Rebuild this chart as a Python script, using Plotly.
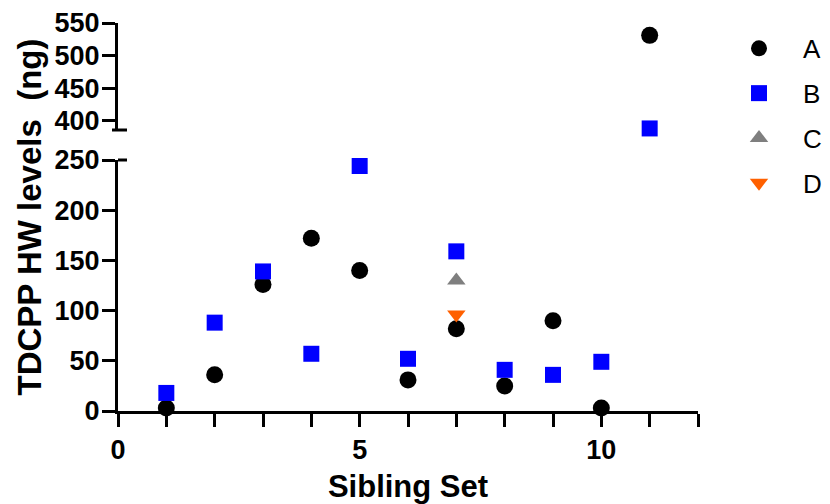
import plotly.graph_objects as go

# ---- data ----
sibling_set = [1, 2, 3, 4, 5, 6, 7, 8, 9, 10, 11]
series_A = [3, 36, 126, 172, 140, 31, 82, 25, 90, 3, 531]
series_B = [18, 88, 139, 57, 244, 52, 159, 41, 36, 49, 388]
set_C = [7]
series_C = [130]
set_D = [7]
series_D = [96]

lower_ticks = [0, 50, 100, 150, 200, 250]
upper_ticks = [400, 450, 500, 550]
x_ticks = list(range(0, 13))
x_ticklabels = ["0", "", "", "", "", "5", "", "", "", "", "10", "", ""]

BREAK = 300  # values above this are drawn on the upper (broken) segment

FONT = "Liberation Sans, Arial, Helvetica, sans-serif"

styles = {
    "A": dict(symbol="circle", color="#000000", size=17),
    "B": dict(symbol="square", color="#0000FF", size=16),
    "C": dict(symbol="triangle-up", color="#7F7F7F", size=16),
    "D": dict(symbol="triangle-down", color="#FF6000", size=16),
}

fig = go.Figure()


def add_series(name, xs, ys):
    st = styles[name]
    lo = [(x, y) for x, y in zip(xs, ys) if y <= BREAK]
    hi = [(x, y) for x, y in zip(xs, ys) if y > BREAK]
    marker = dict(symbol=st["symbol"], color=st["color"], size=st["size"], line=dict(width=0))
    fig.add_trace(go.Scatter(
        x=[p[0] for p in lo], y=[p[1] for p in lo], mode="markers", name=name,
        marker=marker, legendgroup=name, showlegend=True, cliponaxis=False,
        xaxis="x", yaxis="y"))
    if hi:
        fig.add_trace(go.Scatter(
            x=[p[0] for p in hi], y=[p[1] for p in hi], mode="markers", name=name,
            marker=marker, legendgroup=name, showlegend=False, cliponaxis=False,
            xaxis="x", yaxis="y2"))


add_series("A", sibling_set, series_A)
add_series("B", sibling_set, series_B)
add_series("C", set_C, series_C)
add_series("D", set_D, series_D)

axis_common = dict(
    showline=True, linewidth=3, linecolor="black",
    ticks="outside", ticklen=13, tickwidth=3, tickcolor="black",
    showgrid=False, zeroline=False, automargin=False,
    tickfont=dict(family=FONT, size=27, color="black", weight="bold"),
)

# plot area: x 118..698, y 23..411 (px)
H_PLOT = 388.0
fig.update_layout(
    width=830, height=504,
    margin=dict(l=118, r=132, t=23, b=93, autoexpand=False),
    plot_bgcolor="white", paper_bgcolor="white",
    xaxis=dict(
        range=[0, 12], tickmode="array", tickvals=x_ticks, ticktext=x_ticklabels,
        anchor="y", domain=[0, 1],
        title=dict(text="Sibling Set", standoff=12,
                   font=dict(family=FONT, size=31, color="black", weight="bold")),
        **axis_common),
    yaxis=dict(
        range=[0, 250], tickmode="array", tickvals=lower_ticks,
        domain=[0, (411 - 160) / H_PLOT], anchor="x", ticklabelstandoff=-3,
        **axis_common),
    yaxis2=dict(
        range=[385.6, 550], tickmode="array", tickvals=upper_ticks,
        domain=[(411 - 130) / H_PLOT, 1], anchor="x", ticklabelstandoff=-3,
        **axis_common),
    legend=dict(
        x=(715 - 118) / 580, xanchor="left", y=0.995, yanchor="top",
        font=dict(family=FONT, size=26, color="black"),
        tracegroupgap=8, itemwidth=78, bgcolor="rgba(0,0,0,0)",
    ),
    showlegend=True,
)

# y-axis title spanning both segments
fig.add_annotation(
    text="TDCPP HW levels\u00a0 (ng)", textangle=-90,
    xref="paper", yref="paper",
    x=(29 - 118) / 580, y=(411 - 217.5) / H_PLOT,
    xanchor="center", yanchor="middle", showarrow=False,
    font=dict(family=FONT, size=33, color="black", weight="bold"),
)

# axis-break caps
fig.add_shape(type="line", xref="paper", yref="y2 domain",
              x0=-6 / 580, x1=9 / 580, y0=0, y1=0,
              line=dict(color="black", width=3))
fig.add_shape(type="line", xref="paper", yref="y domain",
              x0=0, x1=9 / 580, y0=1, y1=1,
              line=dict(color="black", width=3))

fig.write_html("out.html")
